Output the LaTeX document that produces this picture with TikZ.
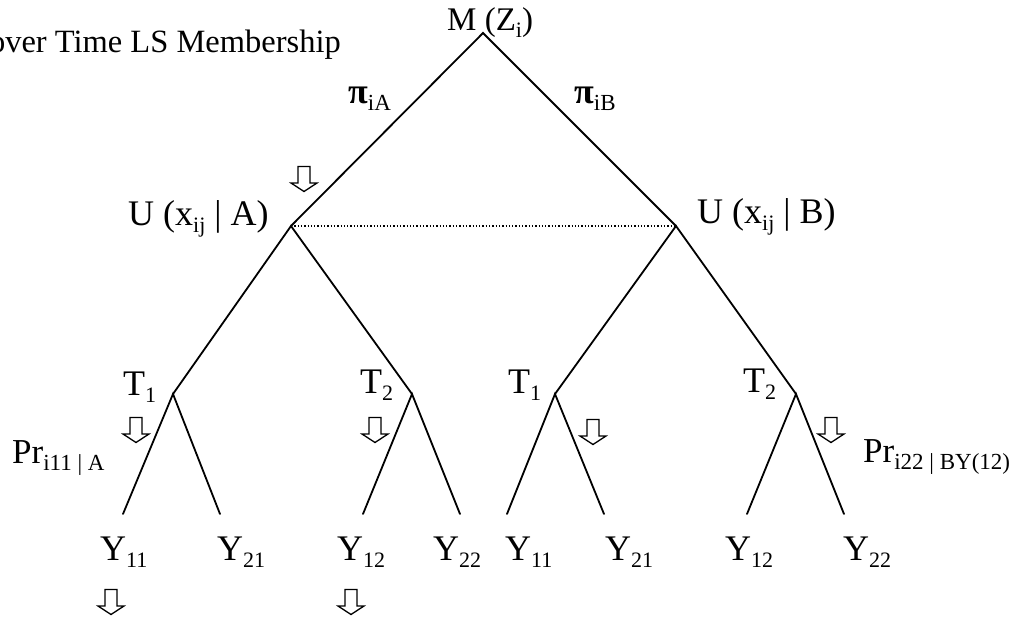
\documentclass[tikz,border=0pt]{standalone}
\usepackage{fontspec}
\setmainfont{Liberation Serif}
\newcommand\sbs[1]{\raisebox{-0.2em}{\fontsize{22}{22}\selectfont #1}}
\newcommand\sbsm[1]{\raisebox{-0.2em}{\fontsize{23}{23}\selectfont #1}}
\tikzset{
  branch/.style={line width=1.8pt, line cap=round},
  lbl/.style={inner sep=0pt, anchor=base west, font=\fontsize{36}{40}\selectfont},
  toplbl/.style={inner sep=0pt, anchor=base west, font=\fontsize{33}{38}\selectfont},
  titlelbl/.style={inner sep=0pt, anchor=base east, font=\fontsize{32.5}{36}\selectfont},
  prlbl/.style={inner sep=0pt, anchor=base west, font=\fontsize{35}{38}\selectfont},
  hollowarrow/.pic={\draw[line width=1.3pt, fill=white, line join=miter]
     (-6,-12.5) -- (6,-12.5) -- (6,4) -- (13,4) -- (0,12.5) -- (-13,4) -- (-6,4) -- cycle;}
}
\begin{document}
\begin{tikzpicture}[x=1pt,y=-1pt]
\useasboundingbox (0,0) rectangle (1018,618);
% junctions
\coordinate (M) at (483,33);
\coordinate (UA) at (291,226);
\coordinate (UB) at (676,226);
\coordinate (TA1) at (173,394);
\coordinate (TA2) at (412,394);
\coordinate (TB1) at (555,394);
\coordinate (TB2) at (796,394);
\coordinate (LA1a) at (123,514);
\coordinate (LA1b) at (220,514);
\coordinate (LA2a) at (363,514);
\coordinate (LA2b) at (460,514);
\coordinate (LB1a) at (507,514);
\coordinate (LB1b) at (604,514);
\coordinate (LB2a) at (747,514);
\coordinate (LB2b) at (844,514);
% branches
\draw[branch] (UA) -- (M) -- (UB);
\draw[branch] (TA1) -- (UA) -- (TA2);
\draw[branch] (TB1) -- (UB) -- (TB2);
\draw[branch] (LA1a) -- (TA1) -- (LA1b);
\draw[branch] (LA2a) -- (TA2) -- (LA2b);
\draw[branch] (LB1a) -- (TB1) -- (LB1b);
\draw[branch] (LB2a) -- (TB2) -- (LB2b);
\draw[line width=1.3pt, dotted] (UA) -- (UB);
% labels
\node[titlelbl] (title) at (341,53) {over Time LS Membership};
\node[toplbl] (mlab) at (447,31) {M (Z\sbs{i})};
\node[lbl] (pia) at (348,103) {{\bfseries π}\sbsm{iA}};
\node[lbl] (pib) at (574,103) {{\bfseries π}\sbsm{iB}};
\node[lbl] (ua) at (128,225) {U (x\sbs{ij} | A)};
\node[lbl] (ub) at (697,223) {U (x\sbs{ij} | B)};
\node[lbl] (ta1) at (123,395) {T\sbs{1}};
\node[lbl] (ta2) at (360,393) {T\sbs{2}};
\node[lbl] (tb1) at (508,393) {T\sbs{1}};
\node[lbl] (tb2) at (743,392) {T\sbs{2}};
\node[prlbl] (pra) at (12,463) {Pr\sbsm{i11 | A}};
\node[prlbl] (prb) at (863,462) {Pr\sbsm{i22 | BY(12)}};
\node[lbl] (ya1) at (100,560) {Y\sbs{11}};
\node[lbl] (ya2) at (217,560) {Y\sbs{21}};
\node[lbl] (ya3) at (337,560) {Y\sbs{12}};
\node[lbl] (ya4) at (433,560) {Y\sbs{22}};
\node[lbl] (yb1) at (505,560) {Y\sbs{11}};
\node[lbl] (yb2) at (605,560) {Y\sbs{21}};
\node[lbl] (yb3) at (725,560) {Y\sbs{12}};
\node[lbl] (yb4) at (843,560) {Y\sbs{22}};
% hollow arrows
\pic at (304,179) {hollowarrow};
\pic at (136,430) {hollowarrow};
\pic at (375,430) {hollowarrow};
\pic at (593,432) {hollowarrow};
\pic at (831,430) {hollowarrow};
\pic at (111,602) {hollowarrow};
\pic at (351,602) {hollowarrow};
\end{tikzpicture}
\end{document}
